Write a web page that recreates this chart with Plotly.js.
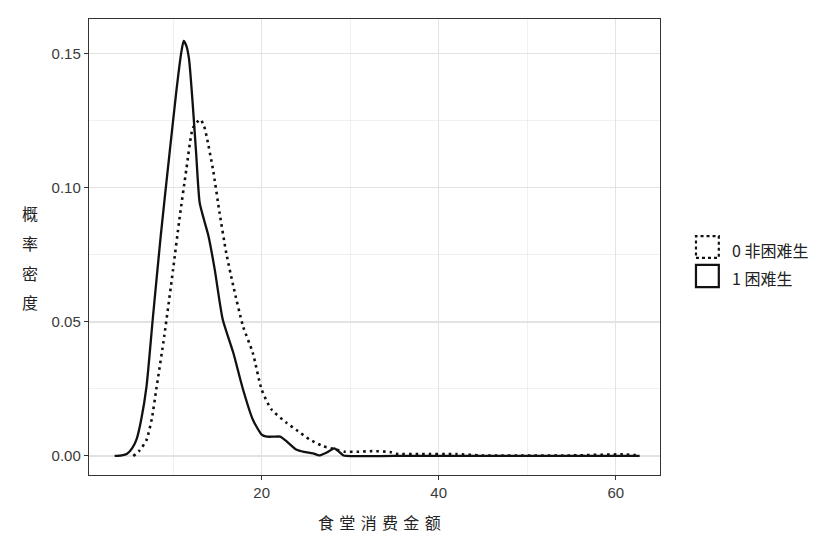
<!DOCTYPE html>
<html>
<head>
<meta charset="utf-8">
<script src="https://cdn.plot.ly/plotly-3.0.1.min.js"></script>
<style>html,body{margin:0;padding:0;background:#fff;}#chart{width:817px;height:547px;}</style>
</head>
<body>
<div id="chart"></div>
<script>
// 1 困难生 (solid)
const xPoor = [3.4, 4.2, 4.8, 5.4, 5.9, 6.4, 7.0, 7.7, 8.6, 9.6, 10.4, 10.9, 11.2, 11.5, 11.8, 12.2, 12.6, 13.0, 13.5, 14.0, 14.7, 15.6, 16.8, 17.9, 19.0, 20.0, 20.6, 21.4, 22.1, 22.8, 23.9, 24.8, 25.8, 26.5, 27.3, 28.2, 28.6, 29.2, 29.6, 35, 45, 55, 62.7];
const yPoor = [0, 0.0002, 0.0008, 0.003, 0.0065, 0.0136, 0.026, 0.051, 0.082, 0.113, 0.137, 0.150, 0.1548, 0.153, 0.148, 0.132, 0.113, 0.0945, 0.088, 0.082, 0.0696, 0.051, 0.0385, 0.0248, 0.0136, 0.008, 0.0072, 0.0072, 0.0072, 0.0055, 0.0024, 0.0015, 0.001, 0.0002, 0.0012, 0.0028, 0.002, 0.0003, 0, 0, 0, 0, 0];
// 0 非困难生 (dotted)
const xNonPoor = [5.5, 6.2, 7.0, 7.6, 8.1, 9.0, 10.0, 10.7, 11.5, 12.2, 12.7, 13.1, 13.5, 13.8, 14.5, 15.25, 16.0, 16.8, 17.9, 19.0, 20.0, 21.1, 22.8, 24.1, 25.4, 26.9, 28.4, 29.4, 31, 32.5, 34.5, 35.2, 38, 42, 45, 55, 60.8, 62.7];
const yNonPoor = [0, 0.002, 0.006, 0.014, 0.0248, 0.0447, 0.0696, 0.088, 0.107, 0.122, 0.1245, 0.1255, 0.123, 0.119, 0.107, 0.0907, 0.0758, 0.0634, 0.0484, 0.0385, 0.0248, 0.0174, 0.0124, 0.0093, 0.0062, 0.0037, 0.0024, 0.0016, 0.0016, 0.0018, 0.0015, 0.0008, 0.0007, 0.0007, 0.0002, 0.0002, 0.0006, 0.0002];

const legendLabels = ["0 非困难生", "1 困难生"];
const xTitle = "食\u2004堂\u2004消\u2004费\u2004金\u2004额";
const yTitleChars = ["概", "率", "密", "度"];

const cjk = '"Noto Sans CJK SC", "Liberation Sans", Arial, sans-serif';
const tickFont = {family: '"Liberation Sans", Arial, sans-serif', size: 15, color: '#3a3a3a'};

const traces = [
  {x: xNonPoor, y: yNonPoor, type: 'scatter', mode: 'lines', name: legendLabels[0],
   line: {color: '#111', width: 2.6, dash: '2.6px,4px', shape: 'spline', smoothing: 0.6}, showlegend: false},
  {x: xPoor, y: yPoor, type: 'scatter', mode: 'lines', name: legendLabels[1],
   line: {color: '#111', width: 2.3, shape: 'spline', smoothing: 0.6}, showlegend: false}
];

const annotations = [
  {xref: 'paper', yref: 'paper', x: 0.5096, y: -0.102, yanchor: 'middle', xanchor: 'center', showarrow: false,
   text: xTitle, font: {family: cjk, size: 16, color: '#222'}},
  {xref: 'paper', yref: 'paper', x: 1.122, y: 0.494, xanchor: 'left', yanchor: 'middle', showarrow: false,
   text: legendLabels[0], font: {family: cjk, size: 16, color: '#222'}},
  {xref: 'paper', yref: 'paper', x: 1.122, y: 0.432, xanchor: 'left', yanchor: 'middle', showarrow: false,
   text: legendLabels[1], font: {family: cjk, size: 16, color: '#222'}}
];
const yCharPos = [0.5746, 0.508, 0.443, 0.379];
yTitleChars.forEach((c, i) => annotations.push({
  xref: 'paper', yref: 'paper', x: -0.103, y: yCharPos[i], xanchor: 'center', yanchor: 'middle',
  showarrow: false, text: c, font: {family: cjk, size: 16, color: '#222'}
}));

const shapes = [
  {type: 'rect', xref: 'paper', yref: 'paper', x0: 1.063, x1: 1.103, y0: 0.476, y1: 0.524,
   line: {color: '#111', width: 2.2, dash: '3px,3px'}, fillcolor: 'rgba(0,0,0,0)'},
  {type: 'rect', xref: 'paper', yref: 'paper', x0: 1.063, x1: 1.103, y0: 0.412, y1: 0.461,
   line: {color: '#111', width: 2.2}, fillcolor: 'rgba(0,0,0,0)'}
];

const layout = {
  width: 817, height: 547,
  margin: {l: 89, r: 157, t: 19, b: 72},
  paper_bgcolor: '#fff', plot_bgcolor: '#fff',
  showlegend: false,
  xaxis: {range: [0.5, 65.0], tickmode: 'linear', tick0: 0, dtick: 20,
    showgrid: true, gridcolor: '#e3e3e3', gridwidth: 1.2, zeroline: false,
    minor: {tickmode: 'linear', tick0: 0, dtick: 10, showgrid: true, gridcolor: '#ececec', gridwidth: 0.8},
    showline: true, linecolor: '#333', linewidth: 1.2, mirror: true,
    ticks: 'outside', ticklen: 4, tickcolor: '#333', tickwidth: 1,
    tickfont: tickFont},
  yaxis: {range: [-0.0071, 0.163], tickmode: 'linear', tick0: 0, dtick: 0.05, tickformat: '.2f',
    showgrid: true, gridcolor: '#e3e3e3', gridwidth: 1.2, zeroline: false,
    minor: {tickmode: 'linear', tick0: 0, dtick: 0.025, showgrid: true, gridcolor: '#ececec', gridwidth: 0.8},
    showline: true, linecolor: '#333', linewidth: 1.2, mirror: true,
    ticks: 'outside', ticklen: 4, tickcolor: '#333', tickwidth: 1,
    tickfont: tickFont},
  annotations: annotations,
  shapes: shapes
};

Plotly.newPlot('chart', traces, layout, {staticPlot: true, displayModeBar: false});
</script>
</body>
</html>
